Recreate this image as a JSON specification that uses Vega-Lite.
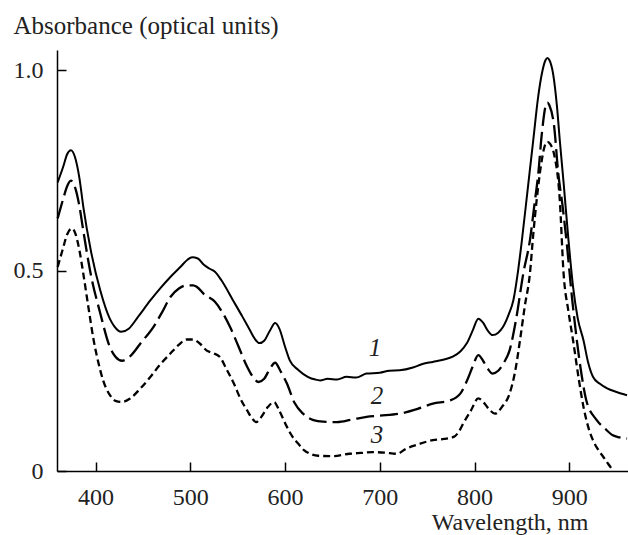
{
  "$schema": "https://vega.github.io/schema/vega-lite/v6.json",
  "autosize": "none",
  "width": 571,
  "height": 421,
  "padding": {"left": 57, "top": 50, "right": 0, "bottom": 64},
  "background": "white",
  "config": {
    "view": {"stroke": null},
    "font": "Liberation Serif",
    "axis": {
      "grid": false,
      "domainColor": "black",
      "domainWidth": 1.5,
      "tickColor": "black",
      "tickWidth": 1.5,
      "tickSize": -9,
      "labelFont": "Liberation Serif",
      "labelFontSize": 24,
      "labelColor": "#222",
      "titleFont": "Liberation Serif",
      "titleFontSize": 25,
      "titleFontWeight": "normal",
      "titleColor": "#222"
    }
  },
  "datasets": {
    "curves": [
      {"s": "1", "nm": 360, "a": 0.72}, {"s": "1", "nm": 366, "a": 0.76}, {"s": "1", "nm": 370, "a": 0.79}, {"s": "1", "nm": 374, "a": 0.80}, {"s": "1", "nm": 378, "a": 0.785}, {"s": "1", "nm": 383, "a": 0.73}, {"s": "1", "nm": 387, "a": 0.66}, {"s": "1", "nm": 395, "a": 0.55}, {"s": "1", "nm": 405, "a": 0.45}, {"s": "1", "nm": 415, "a": 0.38}, {"s": "1", "nm": 420, "a": 0.36}, {"s": "1", "nm": 427, "a": 0.347}, {"s": "1", "nm": 435, "a": 0.355}, {"s": "1", "nm": 445, "a": 0.385}, {"s": "1", "nm": 458, "a": 0.426}, {"s": "1", "nm": 468, "a": 0.455}, {"s": "1", "nm": 479, "a": 0.484}, {"s": "1", "nm": 490, "a": 0.51}, {"s": "1", "nm": 497, "a": 0.527}, {"s": "1", "nm": 502, "a": 0.533}, {"s": "1", "nm": 508, "a": 0.53}, {"s": "1", "nm": 514, "a": 0.515}, {"s": "1", "nm": 520, "a": 0.505}, {"s": "1", "nm": 526, "a": 0.497}, {"s": "1", "nm": 533, "a": 0.475}, {"s": "1", "nm": 545, "a": 0.426}, {"s": "1", "nm": 555, "a": 0.385}, {"s": "1", "nm": 563, "a": 0.351}, {"s": "1", "nm": 568, "a": 0.33}, {"s": "1", "nm": 573, "a": 0.319}, {"s": "1", "nm": 578, "a": 0.325}, {"s": "1", "nm": 584, "a": 0.35}, {"s": "1", "nm": 589.6, "a": 0.369}, {"s": "1", "nm": 594, "a": 0.355}, {"s": "1", "nm": 600, "a": 0.31}, {"s": "1", "nm": 605, "a": 0.276}, {"s": "1", "nm": 614, "a": 0.252}, {"s": "1", "nm": 624, "a": 0.235}, {"s": "1", "nm": 632, "a": 0.228}, {"s": "1", "nm": 637, "a": 0.226}, {"s": "1", "nm": 645, "a": 0.23}, {"s": "1", "nm": 655, "a": 0.228}, {"s": "1", "nm": 665, "a": 0.235}, {"s": "1", "nm": 675, "a": 0.233}, {"s": "1", "nm": 686, "a": 0.243}, {"s": "1", "nm": 700, "a": 0.245}, {"s": "1", "nm": 710, "a": 0.25}, {"s": "1", "nm": 721, "a": 0.251}, {"s": "1", "nm": 735, "a": 0.258}, {"s": "1", "nm": 745, "a": 0.267}, {"s": "1", "nm": 756, "a": 0.272}, {"s": "1", "nm": 768, "a": 0.278}, {"s": "1", "nm": 777, "a": 0.285}, {"s": "1", "nm": 785, "a": 0.298}, {"s": "1", "nm": 792, "a": 0.319}, {"s": "1", "nm": 798, "a": 0.35}, {"s": "1", "nm": 804, "a": 0.38}, {"s": "1", "nm": 809, "a": 0.37}, {"s": "1", "nm": 814, "a": 0.35}, {"s": "1", "nm": 819, "a": 0.339}, {"s": "1", "nm": 825, "a": 0.345}, {"s": "1", "nm": 830, "a": 0.359}, {"s": "1", "nm": 836, "a": 0.39}, {"s": "1", "nm": 841, "a": 0.426}, {"s": "1", "nm": 846, "a": 0.5}, {"s": "1", "nm": 850, "a": 0.575}, {"s": "1", "nm": 856, "a": 0.7}, {"s": "1", "nm": 862, "a": 0.825}, {"s": "1", "nm": 867, "a": 0.93}, {"s": "1", "nm": 871, "a": 0.99}, {"s": "1", "nm": 875, "a": 1.025}, {"s": "1", "nm": 877, "a": 1.03}, {"s": "1", "nm": 879, "a": 1.025}, {"s": "1", "nm": 883, "a": 0.99}, {"s": "1", "nm": 887, "a": 0.91}, {"s": "1", "nm": 890, "a": 0.825}, {"s": "1", "nm": 894, "a": 0.72}, {"s": "1", "nm": 899, "a": 0.58}, {"s": "1", "nm": 904, "a": 0.46}, {"s": "1", "nm": 909, "a": 0.38}, {"s": "1", "nm": 915, "a": 0.326}, {"s": "1", "nm": 920, "a": 0.27}, {"s": "1", "nm": 925, "a": 0.235}, {"s": "1", "nm": 932, "a": 0.218}, {"s": "1", "nm": 940, "a": 0.206}, {"s": "1", "nm": 950, "a": 0.197}, {"s": "1", "nm": 961, "a": 0.189},

      {"s": "2", "nm": 360, "a": 0.63}, {"s": "2", "nm": 366, "a": 0.68}, {"s": "2", "nm": 370, "a": 0.71}, {"s": "2", "nm": 374, "a": 0.724}, {"s": "2", "nm": 378, "a": 0.71}, {"s": "2", "nm": 383, "a": 0.66}, {"s": "2", "nm": 387, "a": 0.60}, {"s": "2", "nm": 395, "a": 0.49}, {"s": "2", "nm": 405, "a": 0.393}, {"s": "2", "nm": 415, "a": 0.31}, {"s": "2", "nm": 421, "a": 0.285}, {"s": "2", "nm": 428, "a": 0.275}, {"s": "2", "nm": 436, "a": 0.285}, {"s": "2", "nm": 448, "a": 0.32}, {"s": "2", "nm": 461, "a": 0.359}, {"s": "2", "nm": 470, "a": 0.395}, {"s": "2", "nm": 479, "a": 0.434}, {"s": "2", "nm": 488, "a": 0.455}, {"s": "2", "nm": 496, "a": 0.463}, {"s": "2", "nm": 503, "a": 0.463}, {"s": "2", "nm": 507, "a": 0.459}, {"s": "2", "nm": 515, "a": 0.44}, {"s": "2", "nm": 526, "a": 0.422}, {"s": "2", "nm": 534, "a": 0.395}, {"s": "2", "nm": 542, "a": 0.359}, {"s": "2", "nm": 551, "a": 0.31}, {"s": "2", "nm": 560, "a": 0.26}, {"s": "2", "nm": 566, "a": 0.235}, {"s": "2", "nm": 572, "a": 0.222}, {"s": "2", "nm": 578, "a": 0.23}, {"s": "2", "nm": 584, "a": 0.255}, {"s": "2", "nm": 589.6, "a": 0.27}, {"s": "2", "nm": 595, "a": 0.25}, {"s": "2", "nm": 602, "a": 0.218}, {"s": "2", "nm": 610, "a": 0.17}, {"s": "2", "nm": 619, "a": 0.143}, {"s": "2", "nm": 630, "a": 0.127}, {"s": "2", "nm": 640, "a": 0.123}, {"s": "2", "nm": 655, "a": 0.122}, {"s": "2", "nm": 670, "a": 0.128}, {"s": "2", "nm": 686, "a": 0.135}, {"s": "2", "nm": 700, "a": 0.138}, {"s": "2", "nm": 721, "a": 0.143}, {"s": "2", "nm": 740, "a": 0.155}, {"s": "2", "nm": 756, "a": 0.168}, {"s": "2", "nm": 774, "a": 0.176}, {"s": "2", "nm": 785, "a": 0.193}, {"s": "2", "nm": 792, "a": 0.225}, {"s": "2", "nm": 798, "a": 0.26}, {"s": "2", "nm": 804, "a": 0.289}, {"s": "2", "nm": 809, "a": 0.275}, {"s": "2", "nm": 814, "a": 0.255}, {"s": "2", "nm": 819, "a": 0.243}, {"s": "2", "nm": 825, "a": 0.25}, {"s": "2", "nm": 831, "a": 0.27}, {"s": "2", "nm": 837, "a": 0.301}, {"s": "2", "nm": 844, "a": 0.38}, {"s": "2", "nm": 851.5, "a": 0.493}, {"s": "2", "nm": 858.5, "a": 0.576}, {"s": "2", "nm": 863, "a": 0.66}, {"s": "2", "nm": 867.3, "a": 0.742}, {"s": "2", "nm": 871, "a": 0.84}, {"s": "2", "nm": 875, "a": 0.91}, {"s": "2", "nm": 877, "a": 0.919}, {"s": "2", "nm": 879, "a": 0.912}, {"s": "2", "nm": 884, "a": 0.86}, {"s": "2", "nm": 888.4, "a": 0.742}, {"s": "2", "nm": 893, "a": 0.66}, {"s": "2", "nm": 897, "a": 0.576}, {"s": "2", "nm": 903, "a": 0.43}, {"s": "2", "nm": 908, "a": 0.326}, {"s": "2", "nm": 913, "a": 0.24}, {"s": "2", "nm": 918, "a": 0.176}, {"s": "2", "nm": 929, "a": 0.127}, {"s": "2", "nm": 938, "a": 0.105}, {"s": "2", "nm": 946, "a": 0.089}, {"s": "2", "nm": 953, "a": 0.084}, {"s": "2", "nm": 961, "a": 0.081},

      {"s": "3", "nm": 360, "a": 0.509}, {"s": "3", "nm": 365, "a": 0.55}, {"s": "3", "nm": 370, "a": 0.59}, {"s": "3", "nm": 375, "a": 0.605}, {"s": "3", "nm": 379, "a": 0.59}, {"s": "3", "nm": 383, "a": 0.55}, {"s": "3", "nm": 387, "a": 0.493}, {"s": "3", "nm": 393, "a": 0.40}, {"s": "3", "nm": 398, "a": 0.326}, {"s": "3", "nm": 403, "a": 0.27}, {"s": "3", "nm": 408, "a": 0.226}, {"s": "3", "nm": 415, "a": 0.19}, {"s": "3", "nm": 421, "a": 0.175}, {"s": "3", "nm": 428, "a": 0.172}, {"s": "3", "nm": 436, "a": 0.18}, {"s": "3", "nm": 447, "a": 0.205}, {"s": "3", "nm": 458, "a": 0.235}, {"s": "3", "nm": 468, "a": 0.265}, {"s": "3", "nm": 479, "a": 0.293}, {"s": "3", "nm": 488, "a": 0.315}, {"s": "3", "nm": 496, "a": 0.328}, {"s": "3", "nm": 503, "a": 0.328}, {"s": "3", "nm": 510, "a": 0.318}, {"s": "3", "nm": 517, "a": 0.301}, {"s": "3", "nm": 524, "a": 0.294}, {"s": "3", "nm": 531, "a": 0.285}, {"s": "3", "nm": 538, "a": 0.255}, {"s": "3", "nm": 546, "a": 0.218}, {"s": "3", "nm": 553, "a": 0.18}, {"s": "3", "nm": 560, "a": 0.151}, {"s": "3", "nm": 565, "a": 0.132}, {"s": "3", "nm": 569.5, "a": 0.122}, {"s": "3", "nm": 575, "a": 0.135}, {"s": "3", "nm": 582, "a": 0.16}, {"s": "3", "nm": 588.5, "a": 0.172}, {"s": "3", "nm": 594, "a": 0.15}, {"s": "3", "nm": 602, "a": 0.11}, {"s": "3", "nm": 608, "a": 0.085}, {"s": "3", "nm": 614, "a": 0.068}, {"s": "3", "nm": 620, "a": 0.052}, {"s": "3", "nm": 626.5, "a": 0.043}, {"s": "3", "nm": 635, "a": 0.038}, {"s": "3", "nm": 651, "a": 0.037}, {"s": "3", "nm": 668, "a": 0.043}, {"s": "3", "nm": 680, "a": 0.045}, {"s": "3", "nm": 693, "a": 0.047}, {"s": "3", "nm": 705, "a": 0.046}, {"s": "3", "nm": 718, "a": 0.043}, {"s": "3", "nm": 728, "a": 0.056}, {"s": "3", "nm": 740, "a": 0.066}, {"s": "3", "nm": 756, "a": 0.077}, {"s": "3", "nm": 768, "a": 0.08}, {"s": "3", "nm": 778, "a": 0.085}, {"s": "3", "nm": 784, "a": 0.1}, {"s": "3", "nm": 788, "a": 0.118}, {"s": "3", "nm": 796, "a": 0.15}, {"s": "3", "nm": 804, "a": 0.181}, {"s": "3", "nm": 810, "a": 0.17}, {"s": "3", "nm": 815, "a": 0.155}, {"s": "3", "nm": 821.6, "a": 0.143}, {"s": "3", "nm": 829, "a": 0.16}, {"s": "3", "nm": 837, "a": 0.193}, {"s": "3", "nm": 843, "a": 0.25}, {"s": "3", "nm": 848, "a": 0.326}, {"s": "3", "nm": 853, "a": 0.41}, {"s": "3", "nm": 858.5, "a": 0.493}, {"s": "3", "nm": 862, "a": 0.59}, {"s": "3", "nm": 865.6, "a": 0.676}, {"s": "3", "nm": 870, "a": 0.76}, {"s": "3", "nm": 874, "a": 0.81}, {"s": "3", "nm": 877, "a": 0.821}, {"s": "3", "nm": 880, "a": 0.815}, {"s": "3", "nm": 884, "a": 0.79}, {"s": "3", "nm": 890, "a": 0.676}, {"s": "3", "nm": 894, "a": 0.493}, {"s": "3", "nm": 899, "a": 0.40}, {"s": "3", "nm": 904, "a": 0.326}, {"s": "3", "nm": 910, "a": 0.23}, {"s": "3", "nm": 915, "a": 0.16}, {"s": "3", "nm": 920, "a": 0.11}, {"s": "3", "nm": 925, "a": 0.077}, {"s": "3", "nm": 930, "a": 0.055}, {"s": "3", "nm": 936, "a": 0.035}, {"s": "3", "nm": 941, "a": 0.018}, {"s": "3", "nm": 946, "a": 0.002}
    ],
    "labels": [
      {"t": "1", "nm": 695, "a": 0.308},
      {"t": "2", "nm": 697, "a": 0.186},
      {"t": "3", "nm": 697, "a": 0.09}
    ]
  },
  "encoding": {
    "x": {
      "field": "nm", "type": "quantitative",
      "scale": {"domain": [359.3, 962], "nice": false, "zero": false},
      "axis": {
        "values": [400, 500, 600, 700, 800, 900],
        "title": "Wavelength, nm",
        "labelPadding": 23,
        "titleFontSize": 24,
        "titleX": 531, "titleY": 58, "titleAlign": "right", "titleBaseline": "alphabetic", "titleAnchor": null
      }
    },
    "y": {
      "field": "a", "type": "quantitative",
      "scale": {"domain": [0, 1.05], "nice": false},
      "axis": {
        "values": [0, 0.5, 1.0],
        "labelExpr": "datum.value == 0 ? '0' : format(datum.value, '.1f')",
        "labelPadding": 23,
        "title": "Absorbance (optical units)",
        "titleAngle": 0, "titleX": -44, "titleY": -17, "titleAlign": "left", "titleBaseline": "alphabetic", "titleAnchor": null
      }
    }
  },
  "layer": [
    {
      "data": {"name": "curves"},
      "transform": [{"filter": "datum.s == '1'"}],
      "mark": {"type": "line", "interpolate": "monotone", "color": "black", "strokeWidth": 2}
    },
    {
      "data": {"name": "curves"},
      "transform": [{"filter": "datum.s == '2'"}],
      "mark": {"type": "line", "interpolate": "monotone", "color": "black", "strokeWidth": 2.3, "strokeDash": [18, 6]}
    },
    {
      "data": {"name": "curves"},
      "transform": [{"filter": "datum.s == '3'"}],
      "mark": {"type": "line", "interpolate": "monotone", "color": "black", "strokeWidth": 2.3, "strokeDash": [7, 4]}
    },
    {
      "data": {"name": "labels"},
      "mark": {"type": "text", "font": "Liberation Serif", "fontStyle": "italic", "fontSize": 25, "color": "#222", "align": "center", "baseline": "middle"},
      "encoding": {"text": {"field": "t"}}
    }
  ]
}
